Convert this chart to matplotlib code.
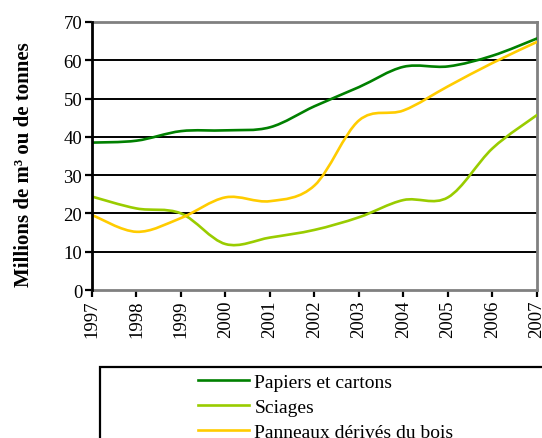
import matplotlib
matplotlib.use("Agg")
import matplotlib.pyplot as plt
import numpy as np
from matplotlib.path import Path
from matplotlib.patches import PathPatch, Rectangle
from matplotlib.lines import Line2D

years = [1997, 1998, 1999, 2000, 2001, 2002, 2003, 2004, 2005, 2006, 2007]
papiers = [38.5, 39.0, 41.5, 41.7, 42.5, 48.0, 53.0, 58.3, 58.4, 61.2, 65.7]
sciages = [24.4, 21.3, 20.0, 12.0, 13.7, 15.7, 19.0, 23.5, 24.2, 37.0, 45.7]
panneaux = [19.6, 15.2, 18.8, 24.2, 23.2, 27.3, 44.3, 46.9, 53.2, 59.3, 64.8]

series_names = ["Papiers et cartons", "Sciages", "Panneaux dérivés du bois"]
series_values = [papiers, sciages, panneaux]
series_colors = ["#008000", "#99CC00", "#FFCC00"]

plt.rcParams["font.family"] = ["Liberation Serif", "DejaVu Serif"]

W, H = 542, 439
fig = plt.figure(figsize=(W / 100, H / 100), dpi=100)
left, right, top, bottom = 92, 537, 23, 291
ax = fig.add_axes([left / W, 1 - bottom / H, (right - left) / W, (bottom - top) / H])


def smooth_path(xs, ys):
    """Bezier path through the points with Excel-style smoothing."""
    pts = np.column_stack([xs, ys]).astype(float)
    ext = np.vstack([pts[0], pts, pts[-1]])
    verts = [pts[0]]
    codes = [Path.MOVETO]
    for i in range(len(pts) - 1):
        p0, p1, p2, p3 = ext[i], ext[i + 1], ext[i + 2], ext[i + 3]
        c1 = p1 + (p2 - p0) / 6.0
        c2 = p2 - (p3 - p1) / 6.0
        verts += [c1, c2, p2]
        codes += [Path.CURVE4] * 3
    return Path(verts, codes)


for vals, col in zip(series_values, series_colors):
    patch = PathPatch(smooth_path(years, vals), facecolor="none", edgecolor=col,
                      lw=1.9, capstyle="round", joinstyle="round", zorder=3)
    ax.add_patch(patch)

ax.set_xlim(1997, 2007)
ax.set_ylim(0, 70)
ax.set_xticks(years)
ax.set_xticklabels([str(y) for y in years], rotation=90, fontsize=13.5)
ax.set_yticks(range(0, 71, 10))
ax.set_yticklabels([str(v) for v in range(0, 71, 10)], fontsize=13.5)
ax.tick_params(axis="both", direction="out", length=5, width=1.6, color="black", pad=2)

for v in range(10, 70, 10):
    ax.axhline(v, color="black", lw=1.4, zorder=1)

ax.spines["left"].set_color("black")
ax.spines["left"].set_linewidth(2)
for s in ["top", "right", "bottom"]:
    ax.spines[s].set_color("#808080")
    ax.spines[s].set_linewidth(2)
ax.spines["left"].set_zorder(4)

fig.text(24 / W, 1 - 165 / H, "Millions de m³ ou de tonnes", rotation=90,
         ha="center", va="center", fontsize=15, fontweight="bold")

# Legend box, partly outside the figure
fig.patches.append(Rectangle((100 / W, 1 - 520 / H), 500 / W, 152 / H,
                             transform=fig.transFigure, facecolor="white",
                             edgecolor="black", lw=1.6, zorder=0))
handles = [Line2D([], [], color=c, lw=1.9) for c in series_colors]
fig.legend(handles, series_names, loc="upper left",
           bbox_to_anchor=(198 / W, 1 - 374 / H), frameon=False,
           fontsize=14, handlelength=2.6, handletextpad=0.3,
           labelspacing=0.38, borderpad=0.0, borderaxespad=0.0)

fig.savefig("out.png", dpi=100)
